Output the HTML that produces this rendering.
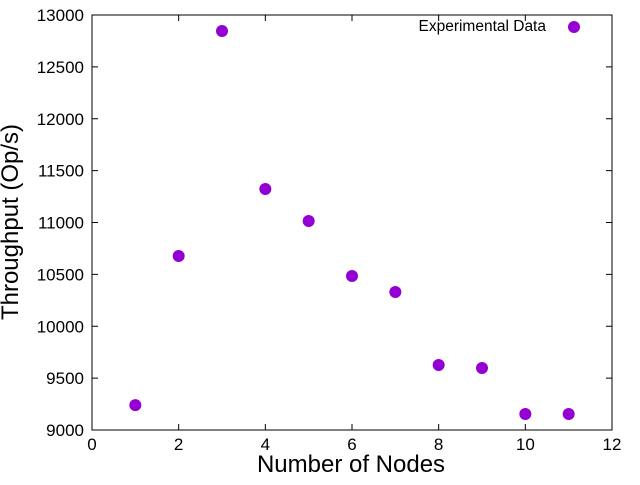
<!DOCTYPE html>
<html><head><meta charset="utf-8"><style>
body{margin:0;background:#fff;width:640px;height:480px;overflow:hidden}
svg text{font-family:"Liberation Sans",sans-serif;fill:#000}
</style></head><body>
<svg id="chart" width="640" height="480">
<rect x="0" y="0" width="640" height="480" fill="#fff"/>
<g id="axes"></g>
<g id="points"></g>
<text x="546" y="31" font-size="15.5" text-anchor="end">Experimental Data</text>
<circle cx="574" cy="27" r="6" fill="#9400d3"/>
<text x="351" y="472" font-size="24" text-anchor="middle">Number of Nodes</text>
<text transform="translate(18,222) rotate(-90)" font-size="24" text-anchor="middle">Throughput (Op/s)</text>
</svg>
<script>
const nodes=[1,2,3,4,5,6,7,8,9,10,11];
const throughput=[9240,10677,12846,11323,11014,10484,10330,9627,9598,9154,9154];
const xTicks=[0,2,4,6,8,10,12];
const yTicks=[9000,9500,10000,10500,11000,11500,12000,12500,13000];
const L=92,R=612,T=15,B=430;
const xs=v=>L+(v-0)/(12-0)*(R-L);
const ys=v=>B-(v-9000)/(13000-9000)*(B-T);
const NS="http://www.w3.org/2000/svg";
const ax=document.getElementById('axes'),pts=document.getElementById('points');
function mk(t,a,p){const e=document.createElementNS(NS,t);for(const k in a)e.setAttribute(k,a[k]);p.appendChild(e);return e;}
const fr=mk('rect',{x:L,y:T,width:R-L,height:B-T,fill:'none',stroke:'#000','stroke-width':1},ax);


xTicks.forEach(v=>{const x=xs(v);
mk('line',{x1:x,y1:B,x2:x,y2:B-6,stroke:'#000'},ax);
mk('line',{x1:x,y1:T,x2:x,y2:T+6,stroke:'#000'},ax);
const t=mk('text',{x:x,y:B+20,'font-size':17,'text-anchor':'middle'},ax);t.textContent=v;

});
yTicks.forEach(v=>{const y=ys(v);
mk('line',{x1:L,y1:y,x2:L+6,y2:y,stroke:'#000'},ax);
mk('line',{x1:R,y1:y,x2:R-6,y2:y,stroke:'#000'},ax);
const t=mk('text',{x:L-8,y:y+6,'font-size':17,'text-anchor':'end'},ax);t.textContent=v;

});
nodes.forEach((n,i)=>{const c=mk('circle',{cx:xs(n),cy:ys(throughput[i]),r:6,fill:'#9400d3'},pts);

});
</script>
</body></html>
